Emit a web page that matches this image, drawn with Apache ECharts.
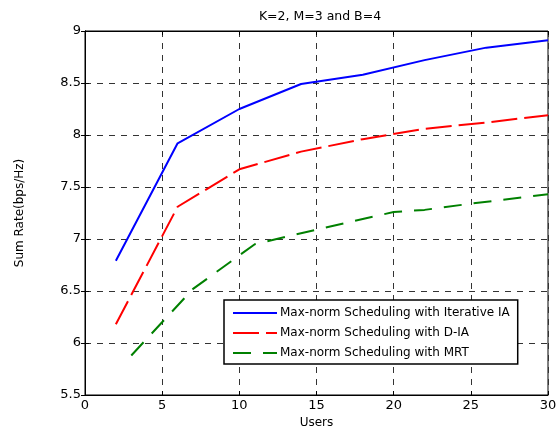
<!DOCTYPE html>
<html lang="en">
<head>
    <meta charset="UTF-8">
    <title>Sum Rate vs Users</title>
    <script src="https://cdn.jsdelivr.net/npm/echarts@6/dist/echarts.min.js"></script>
</head>
<body style="margin:0;background:#fff;">
    <div id="main" style="width: 559px; height: 432px;"></div>
    <script>
        const chart = echarts.init(document.getElementById('main'));

        const seriesNames = [
            'Max-norm Scheduling with Iterative IA',
            'Max-norm Scheduling with D-IA',
            'Max-norm Scheduling with MRT'
        ];
        const iterIaX = [2, 6, 10, 14, 18, 22, 26, 30];
        const iterIaY = [6.79, 7.92, 8.25, 8.49, 8.58, 8.72, 8.84, 8.91];
        const diaX = [2, 6, 10, 14, 18, 22, 26, 30];
        const diaY = [6.18, 7.31, 7.67, 7.84, 7.96, 8.06, 8.12, 8.19];
        const mrtX = [3, 7, 11, 15, 20, 22, 25, 30];
        const mrtY = [5.88, 6.52, 6.95, 7.09, 7.26, 7.28, 7.34, 7.43];

        function pairs(xs, ys) {
            return xs.map(function (x, i) { return [x, ys[i]]; });
        }

        const font = 'DejaVu Sans';
        const gridDash = { type: [6, 6], color: '#333', width: 1 };

        // top / right copies of the axes, only for the inner tick marks
        function mirrorAxis(type, pos) {
            const ax = {
                type: 'value', position: pos,
                axisLine: { show: true, lineStyle: { color: '#000' } },
                axisTick: { show: true, inside: true, length: 4, lineStyle: { color: '#000' } },
                axisLabel: { show: false },
                splitLine: { show: false }
            };
            if (type === 'x') { ax.min = 0; ax.max = 30; ax.interval = 5; }
            else { ax.min = 5.5; ax.max = 9; ax.interval = 0.5; }
            return ax;
        }

        const option = {
            backgroundColor: '#fff',
            animation: false,
            title: {
                text: 'K=2, M=3 and B=4',
                left: 315, top: 5, textAlign: 'center',
                textStyle: { fontFamily: font, fontSize: 12.5, fontWeight: 'normal', color: '#000' }
            },
            grid: {
                left: 85, right: 11, top: 31, bottom: 37,
                outerBoundsMode: 'none',
                show: true, borderColor: '#000', borderWidth: 1
            },
            legend: {
                orient: 'vertical',
                left: 224, top: 300,
                width: 323,
                padding: [7, 8, 5, 8],
                itemGap: 8,
                itemWidth: 44,
                itemHeight: 14,
                borderColor: '#000', borderWidth: 1.5, borderRadius: 0,
                backgroundColor: '#fff',
                itemStyle: { opacity: 0 },
                textStyle: { fontFamily: font, fontSize: 12, color: '#000', padding: [0, 0, 0, -2] },
                data: seriesNames
            },
            xAxis: [{
                type: 'value', min: 0, max: 30, interval: 5,
                name: 'Users', nameLocation: 'middle', nameGap: 22,
                nameTextStyle: { fontFamily: font, fontSize: 12, color: '#000' },
                axisLine: { show: true, lineStyle: { color: '#000' } },
                axisTick: { show: true, inside: true, length: 4, lineStyle: { color: '#000' } },
                axisLabel: { fontFamily: font, fontSize: 13, color: '#000', margin: 4 },
                splitLine: { show: true, lineStyle: gridDash }
            }, mirrorAxis('x', 'top')],
            yAxis: [{
                type: 'value', min: 5.5, max: 9, interval: 0.5,
                name: 'Sum Rate(bps/Hz)', nameLocation: 'middle', nameGap: 59,
                nameTextStyle: { fontFamily: font, fontSize: 12, color: '#000' },
                axisLine: { show: true, lineStyle: { color: '#000' } },
                axisTick: { show: true, inside: true, length: 4, lineStyle: { color: '#000' } },
                axisLabel: { fontFamily: font, fontSize: 13, color: '#000', margin: 4 },
                splitLine: { show: true, lineStyle: gridDash }
            }, mirrorAxis('y', 'right')],
            series: [{
                name: seriesNames[0], type: 'line', symbol: 'none',
                data: pairs(iterIaX, iterIaY),
                lineStyle: { color: '#0000ff', width: 2 },
                itemStyle: { color: '#0000ff' }
            }, {
                name: seriesNames[1], type: 'line', symbol: 'none',
                data: pairs(diaX, diaY),
                lineStyle: { color: '#ff0000', width: 2, type: [26, 7] },
                itemStyle: { color: '#ff0000' }
            }, {
                name: seriesNames[2], type: 'line', symbol: 'none',
                data: pairs(mrtX, mrtY),
                lineStyle: { color: '#008000', width: 2, type: [18, 12] },
                itemStyle: { color: '#008000' }
            }]
        };

        chart.setOption(option);
    </script>
</body>
</html>
